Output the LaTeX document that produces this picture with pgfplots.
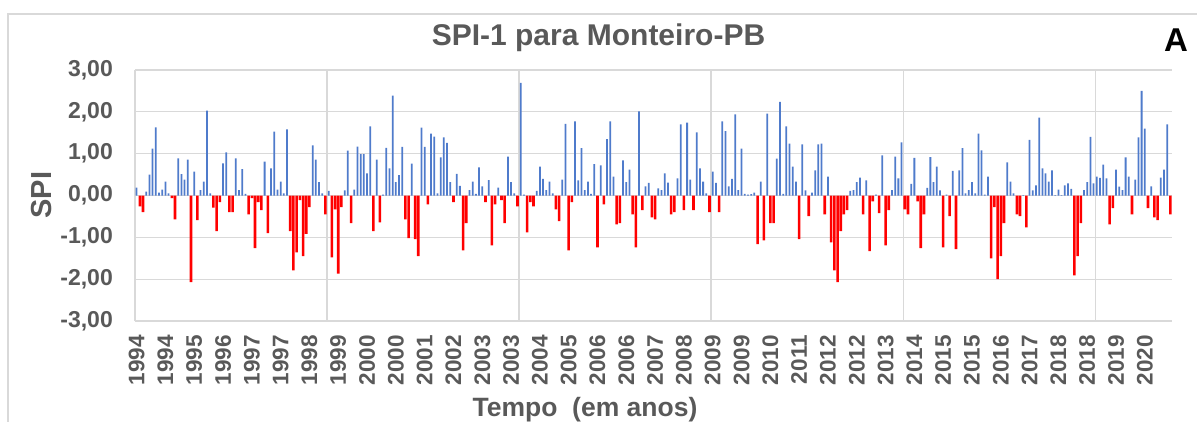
\documentclass[border=0pt]{standalone}
\usepackage{pgfplots}
\pgfplotsset{compat=1.18}
\usepackage{pgfplotstable}
\usepackage{fontspec}
\setmainfont{Liberation Sans}
\definecolor{txtgray}{HTML}{595959}
\definecolor{gridgray}{HTML}{D9D9D9}
\definecolor{barblue}{HTML}{4F7BCB}
\definecolor{barred}{HTML}{FF0000}

\pgfplotstableread{
i v
0 0.19
1 -0.26
2 -0.40
3 0.09
4 0.50
5 1.12
6 1.63
7 0.07
8 0.14
9 0.33
10 0.05
11 -0.06
12 -0.57
13 0.89
14 0.51
15 0.38
16 0.86
17 -2.07
18 0.57
19 -0.59
20 0.13
21 0.33
22 2.03
23 0.05
24 -0.29
25 -0.85
26 -0.16
27 0.77
28 1.03
29 -0.40
30 -0.40
31 0.89
32 0.13
33 0.63
34 0.04
35 -0.45
36 -0.06
37 -1.26
38 -0.16
39 -0.35
40 0.81
41 -0.90
42 0.65
43 1.53
44 0.14
45 0.33
46 0.05
47 1.58
48 -0.85
49 -1.79
50 -1.36
51 -0.11
52 -1.45
53 -0.92
54 -0.28
55 1.20
56 0.86
57 0.32
58 0.05
59 -0.45
60 0.11
61 -1.48
62 -0.33
63 -1.87
64 -0.28
65 0.12
66 1.07
67 -0.66
68 0.14
69 1.17
70 0.99
71 0.99
72 0.53
73 1.65
74 -0.85
75 0.86
76 -0.64
77 0.02
78 1.14
79 0.65
80 2.39
81 0.32
82 0.49
83 1.16
84 -0.57
85 -1.02
86 0.76
87 -1.04
88 -1.45
89 1.62
90 1.16
91 -0.21
92 1.48
93 1.41
94 0.05
95 0.91
96 1.39
97 1.26
98 0.32
99 -0.16
100 0.52
101 0.23
102 -1.31
103 -0.66
104 0.13
105 0.33
106 0.04
107 0.67
108 0.22
109 -0.16
110 0.37
111 -1.19
112 -0.21
113 0.19
114 -0.11
115 -0.66
116 0.93
117 0.32
118 0.05
119 -0.26
120 2.69
121 0.02
122 -0.88
123 -0.16
124 -0.26
125 0.11
126 0.69
127 0.40
128 0.13
129 0.33
130 0.05
131 -0.33
132 -0.61
133 0.38
134 1.71
135 -1.31
136 -0.16
137 1.77
138 0.36
139 1.13
140 0.13
141 0.33
142 0.04
143 0.75
144 -1.24
145 0.72
146 -0.21
147 1.35
148 1.77
149 0.45
150 -0.69
151 -0.66
152 0.84
153 0.32
154 0.62
155 -0.45
156 -1.24
157 2.01
158 -0.35
159 0.22
160 0.30
161 -0.52
162 -0.57
163 0.17
164 0.13
165 0.53
166 0.31
167 -0.45
168 -0.40
169 0.41
170 1.70
171 -0.35
172 1.74
173 0.38
174 -0.35
175 1.51
176 0.65
177 0.33
178 0.05
179 -0.40
180 0.57
181 0.30
182 -0.40
183 1.77
184 1.54
185 0.22
186 0.40
187 1.94
188 0.13
189 1.12
190 0.04
191 0.02
192 0.03
193 0.07
194 -1.16
195 0.33
196 -1.07
197 1.96
198 -0.66
199 -0.66
200 0.88
201 2.24
202 0.04
203 1.65
204 1.24
205 0.69
206 0.33
207 -1.04
208 1.22
209 0.12
210 -0.49
211 0.07
212 0.60
213 1.22
214 1.24
215 -0.45
216 0.45
217 -1.12
218 -1.79
219 -2.07
220 -0.85
221 -0.45
222 -0.35
223 0.11
224 0.13
225 0.32
226 0.43
227 -0.45
228 0.36
229 -1.33
230 -0.14
231 0.02
232 -0.42
233 0.96
234 -1.19
235 -0.35
236 0.13
237 0.93
238 0.41
239 1.27
240 -0.33
241 -0.45
242 0.28
243 0.90
244 -0.14
245 -1.26
246 -0.45
247 0.18
248 0.92
249 0.32
250 0.69
251 0.12
252 -1.24
253 0.02
254 -0.49
255 0.59
256 -1.28
257 0.60
258 1.13
259 0.05
260 0.13
261 0.32
262 0.05
263 1.48
264 1.08
265 0.02
266 0.45
267 -1.50
268 -0.28
269 -2.00
270 -1.45
271 -0.66
272 0.79
273 0.33
274 0.05
275 -0.45
276 -0.49
277 0.01
278 -0.76
279 1.33
280 0.12
281 0.24
282 1.86
283 0.65
284 0.53
285 0.33
286 0.60
287 0.01
288 0.14
289 0.01
290 0.24
291 0.29
292 0.16
293 -1.91
294 -1.45
295 -0.66
296 0.13
297 0.32
298 1.40
299 0.29
300 0.45
301 0.42
302 0.74
303 0.41
304 -0.69
305 -0.30
306 0.62
307 0.21
308 0.13
309 0.91
310 0.45
311 -0.45
312 0.38
313 1.39
314 2.50
315 1.60
316 -0.30
317 0.22
318 -0.52
319 -0.59
320 0.43
321 0.62
322 1.70
323 -0.45
}\spidata

\begin{document}
\begin{tikzpicture}
\path[use as bounding box] (0pt,0pt) rectangle (1197pt,421pt);
\draw[gridgray, line width=1.2pt] (8pt,-2pt) -- (8pt,407pt) -- (1199pt,407pt);
\begin{axis}[
  at={(135pt,100pt)}, anchor=south west,
  scale only axis, width=1037pt, height=251pt,
  xmin=-0.5, xmax=323.5, ymin=-3, ymax=3,
  axis line style={draw=none},
  major tick length=0pt,
  tick style={draw=none},
  ytick={-3,-2,-1,0,1,2,3},
  yticklabels={{-3,00},{-2,00},{-1,00},{0,00},{1,00},{2,00},{3,00}},
  ymajorgrids=true,
  major grid style={gridgray, line width=1.3pt},
  yticklabel style={font=\fontsize{23}{28}\selectfont\bfseries, text=txtgray, inner sep=0pt, anchor=east, xshift=-22pt},
  xtick={0,9,...,315},
  xticklabels={1994,1994,1995,1996,1997,1997,1998,1999,2000,2000,2001,2002,2003,2003,2004,2005,2006,2006,2007,2008,2009,2009,2010,2011,2012,2012,2013,2014,2015,2015,2016,2017,2018,2018,2019,2020},
  xticklabel shift=14pt,
  xticklabel style={font=\fontsize{22.5}{26}\selectfont\bfseries, text=txtgray, inner sep=0pt, rotate=90, anchor=east},
  extra x ticks={-0.5,59.5,119.5,179.5,239.5,299.5},
  extra x tick labels={},
  extra x tick style={grid=major, major grid style={gridgray, line width=1.3pt}},
]
\addplot[ybar, bar width=0.55, bar shift=0pt, fill=barblue, draw=none, restrict y to domain=0:10] table[x=i, y=v] {\spidata};
\addplot[ybar, bar width=0.8, bar shift=0pt, fill=barred, draw=none, restrict y to domain=-10:0] table[x=i, y=v] {\spidata};
\end{axis}
\node[font=\fontsize{30}{36}\selectfont\bfseries, text=txtgray, anchor=base] at (598.5pt,375pt) {SPI-1 para Monteiro-PB};
\node[font=\fontsize{33}{40}\selectfont\bfseries, anchor=base, inner sep=0pt] at (1176pt,369pt) {A};
\node[font=\fontsize{29}{34}\selectfont\bfseries, text=txtgray, rotate=90, inner sep=0pt] at (42pt,226pt) {SPI};
\node[font=\fontsize{26.5}{31}\selectfont\bfseries, text=txtgray, anchor=base] at (585pt,5pt) {Tempo\ \ (em anos)};
\end{tikzpicture}
\end{document}
